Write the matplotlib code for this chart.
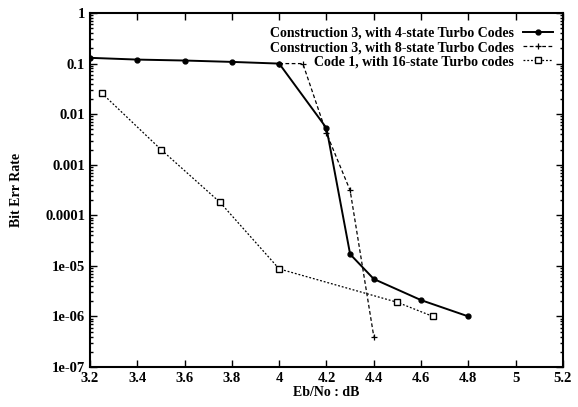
import matplotlib
matplotlib.use("Agg")
import matplotlib.pyplot as plt
from matplotlib.ticker import FixedLocator, LogLocator, NullFormatter

plt.rcParams['font.family'] = ['Liberation Serif', 'DejaVu Serif']

# data
x_4state = [3.2, 3.4, 3.6, 3.8, 4.0, 4.2, 4.3, 4.4, 4.6, 4.8]
ber_4state = [0.13, 0.12, 0.115, 0.108, 0.1, 0.0053, 1.7e-5, 5.5e-6, 2.1e-6, 1.0e-6]

x_8state = [4.0, 4.1, 4.2, 4.3, 4.4]
ber_8state = [0.1, 0.1, 0.0042, 3.1e-4, 4.0e-7]

x_code1 = [3.25, 3.5, 3.75, 4.0, 4.5, 4.65]
ber_code1 = [0.026, 0.002, 1.8e-4, 8.7e-6, 1.9e-6, 1.0e-6]

labels = ["Construction 3, with 4-state Turbo Codes",
          "Construction 3, with 8-state Turbo Codes",
          "Code 1, with 16-state Turbo codes"]

xticks = [3.2, 3.4, 3.6, 3.8, 4.0, 4.2, 4.4, 4.6, 4.8, 5.0, 5.2]
xticklabels = ["3.2", "3.4", "3.6", "3.8", "4", "4.2", "4.4", "4.6", "4.8", "5", "5.2"]
yticks = [1, 0.1, 0.01, 0.001, 0.0001, 1e-5, 1e-6, 1e-7]
yticklabels = ["1", "0.1", "0.01", "0.001", "0.0001", "1e-05", "1e-06", "1e-07"]

fig = plt.figure(figsize=(5.78, 4.07), dpi=100)
ax = fig.add_axes([0.1557, 0.0983, 0.8183, 0.8697])

ax.plot(x_4state, ber_4state, '-', color='black', lw=1.4, marker='o', ms=3.5,
        label=labels[0])
ax.plot(x_8state, ber_8state, linestyle=(0, (3, 2)), color='black', lw=0.9,
        marker='+', ms=5, mew=0.9, label=labels[1])
ax.plot(x_code1, ber_code1, linestyle=(0, (1.5, 1.5)), color='black', lw=0.9,
        marker='s', ms=4, mfc='white', mew=1.0, label=labels[2])

ax.set_yscale('log')
ax.set_xlim(3.2, 5.2)
ax.set_ylim(1e-7, 1)
ax.set_xticks(xticks)
ax.set_xticklabels(xticklabels)
ax.set_yticks(yticks)
ax.set_yticklabels(yticklabels)
ax.yaxis.set_minor_locator(LogLocator(base=10, subs=range(2, 10), numticks=20))
ax.yaxis.set_minor_formatter(NullFormatter())

ax.tick_params(which='both', direction='in', top=True, right=True,
               labelsize=10.5, width=1.0)
ax.tick_params(which='major', length=5)
ax.tick_params(which='minor', length=2.5)
for lab in ax.get_xticklabels() + ax.get_yticklabels():
    lab.set_fontweight('bold')
for s in ax.spines.values():
    s.set_linewidth(1.5)

ax.set_xlabel("Eb/No : dB", fontsize=10, fontweight='bold', labelpad=1)
ax.set_ylabel("Bit Err Rate", fontsize=10, fontweight='bold', labelpad=16)

leg = ax.legend(loc='upper right', bbox_to_anchor=(1.0, 0.988),
                markerfirst=False, frameon=False,
                fontsize=10, handlelength=2.2, borderaxespad=0.3,
                labelspacing=0.08, handletextpad=0.6)
for t in leg.get_texts():
    t.set_fontweight('bold')

fig.savefig("out.png", dpi=100)
